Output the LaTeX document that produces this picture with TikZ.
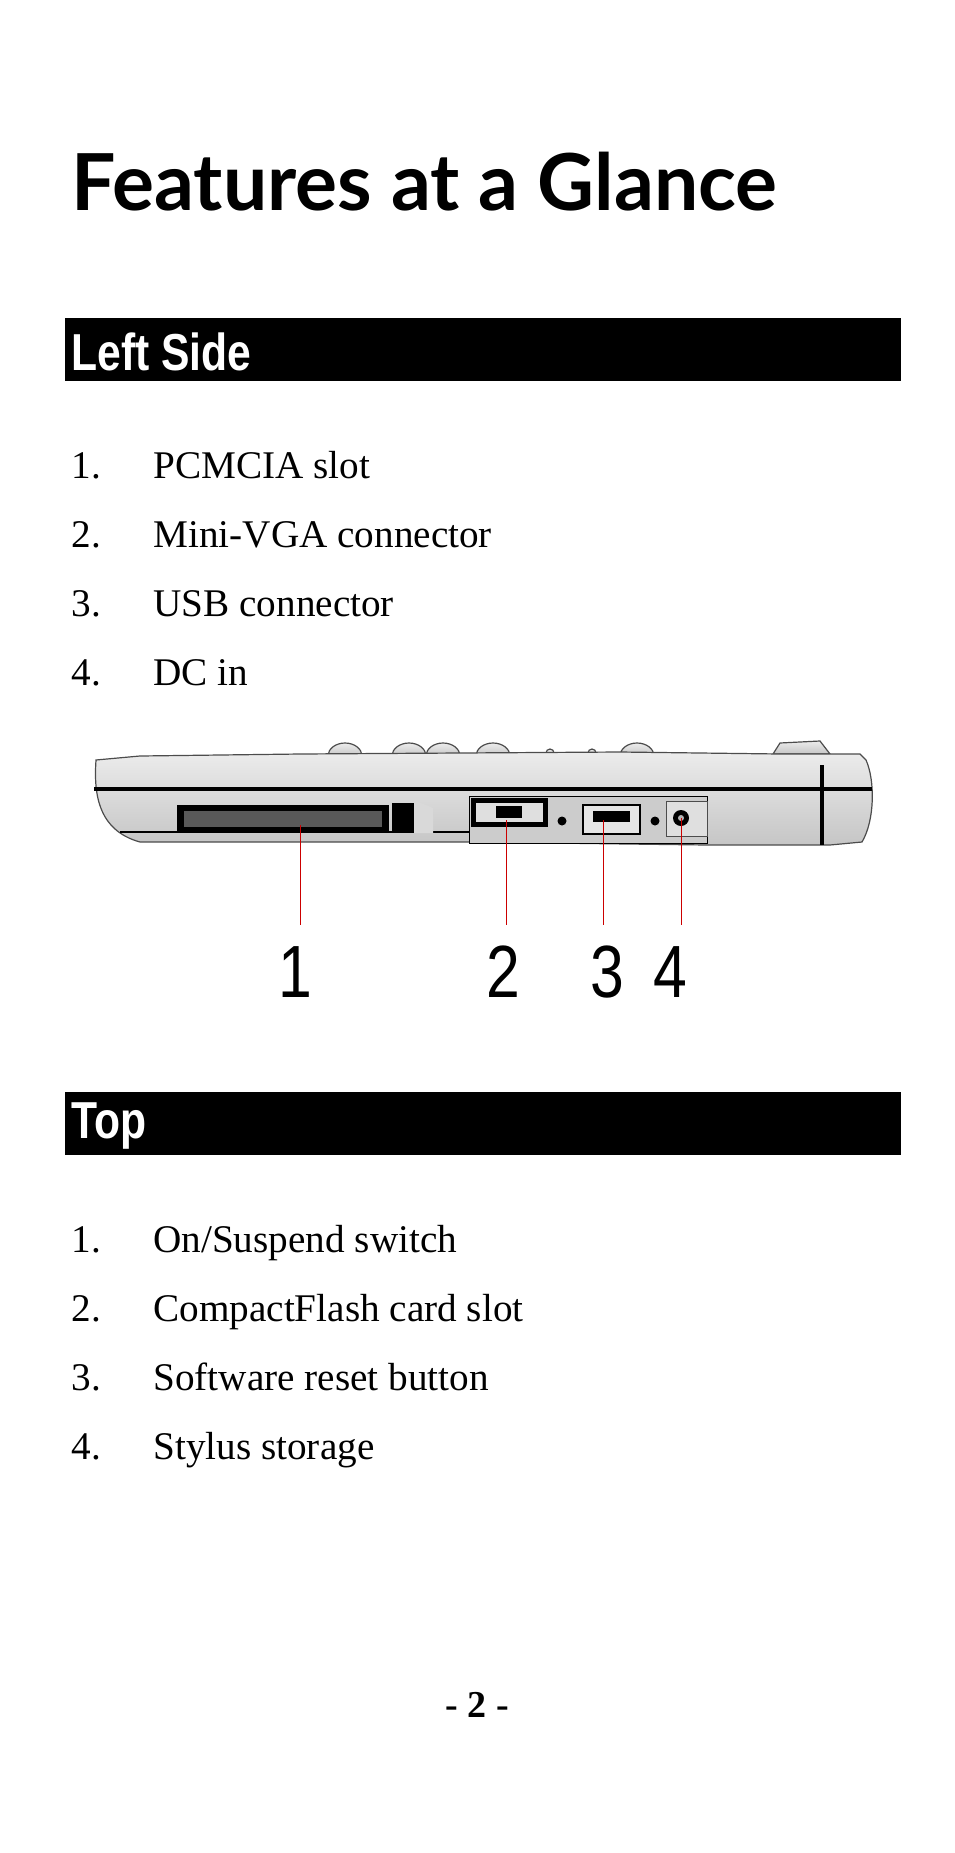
\documentclass[tikz,border=0pt]{standalone}
\usepackage{fontspec}
\setmainfont{Liberation Serif}
\newfontfamily\hsans{Lato}
\newfontfamily\narrow[FakeStretch=0.82]{Liberation Sans}
\tikzset{
  item/.style={anchor=base west,font=\fontsize{19.6}{22}\selectfont,inner sep=0},
  bar/.style={fill=black,draw=none},
  bartext/.style={anchor=west,text=white,inner sep=0,font=\narrow\bfseries\fontsize{26}{28}\selectfont},
  lead/.style={red!80!black,line width=0.5pt},
  num/.style={font=\narrow\fontsize{37}{40}\selectfont,inner sep=0},
  metal/.style={top color=gray!15,bottom color=gray!45,draw=gray!60!black,line width=0.6pt}
}
\begin{document}
\begin{tikzpicture}[x=0.5pt,y=-0.5pt]
\useasboundingbox (0,0) rectangle (954,1853);
\node[anchor=west,inner sep=0] (title) at (71,182) {\resizebox{353pt}{!}{\hsans\bfseries Features at a Glance}};
\fill[bar] (65,318) rectangle (901,381);
\node[bartext] (ls) at (71,352) {Left Side};
\foreach \n/\t/\y in {1/PCMCIA slot/478,2/Mini-VGA connector/547,3/USB connector/616,4/DC in/685}{
  \node[item] (l\n) at (71,\y) {\n.};
  \node[item] (lt\n) at (153,\y) {\t};
}
% device
\foreach \bx in {345,409,443,493,637}{
  \path[metal] (\bx-17,756) arc (180:360:17 and 13) -- cycle;
}
\path[metal] (773,754) -- (780,743) -- (820,741) -- (830,754) -- cycle;
\path[metal] (550,753) circle (4); \path[metal] (592,753) circle (4);
\path[metal] (96,760) .. controls (94,790) and (96,830) .. (140,842) -- (470,842) -- (707,845) -- (830,845) -- (862,842) .. controls (875,820) and (875,780) .. (866,760) -- (860,754) -- (780,754) -- (620,752) -- (300,754) -- (140,756) -- cycle;
\draw[line width=2pt] (94,789) -- (872,789);
\draw[line width=1.6pt] (822,765) -- (822,845);
\draw[line width=1pt] (120,832) -- (469,832);
\fill[black] (177,805) rectangle (389,833);
\fill[gray!70!black] (184,811) rectangle (382,827);
\fill[black] (392,803) rectangle (414,833);
\fill[gray!30] (414,800) -- (433,808) -- (433,833) -- (414,833) -- cycle;
\draw[fill=gray!40,draw=black] (469,796) rectangle (707,843);
\fill[black] (471,798) rectangle (548,827);
\fill[gray!25] (476,803) rectangle (543,822);
\fill[black] (496,806) rectangle (522,818);
\fill[black] (562,821) circle (4.5);
\fill[black] (655,821) circle (4.5);
\draw[black,line width=1pt,fill=gray!20] (583,805) rectangle (640,834);
\fill[black] (593,811) rectangle (630,822);
\draw[gray!60!black,fill=gray!25] (666,801) rectangle (707,836);
\fill[black] (681,818) circle (8);
\fill[gray!60] (681,818) circle (3);
\coordinate (p1) at (300,825); \coordinate (p2) at (506,820);
\coordinate (p3) at (603,820); \coordinate (p4) at (681,818);
\node[num] (n1) at (295,972) {1};
\node[num] (n2) at (503,972) {2};
\node[num] (n3) at (607,972) {3};
\node[num] (n4) at (670,972) {4};
\foreach \i in {1,2,3,4}{ \draw[lead] (p\i) -- (p\i |- 0,925); }
\fill[bar] (65,1092) rectangle (901,1155);
\node[bartext] (tp) at (71,1126) {Top};
\foreach \n/\t/\y in {1/{On/Suspend switch}/1252,2/CompactFlash card slot/1321,3/Software reset button/1390,4/Stylus storage/1459}{
  \node[item] (t\n) at (71,\y) {\n.};
  \node[item] (tt\n) at (153,\y) {\t};
}
\node[font=\bfseries\fontsize{19}{22}\selectfont,inner sep=0] (pg) at (477,1705) {- 2 -};
\end{tikzpicture}
\end{document}
